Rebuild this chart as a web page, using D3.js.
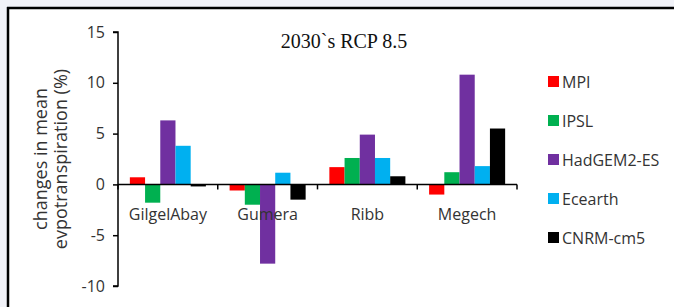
<!DOCTYPE html>
<html><head><meta charset="utf-8">
<script src="https://cdn.jsdelivr.net/npm/d3@7"></script>
<style>
html,body{margin:0;padding:0;background:#f1f2f8;}
svg{display:block;}
</style></head>
<body>
<svg id="c" width="674" height="307"></svg>
<script>
const categories = ["GilgelAbay", "Gumera", "Ribb", "Megech"];
const seriesNames = ["MPI", "IPSL", "HadGEM2-ES", "Ecearth", "CNRM-cm5"];
const seriesColors = ["#ff0000", "#00b050", "#7030a0", "#00b0f0", "#000000"];
const MPI = [0.7, -0.6, 1.7, -1.0];
const IPSL = [-1.8, -2.0, 2.6, 1.2];
const HadGEM2ES = [6.3, -7.8, 4.9, 10.8];
const Ecearth = [3.8, 1.15, 2.6, 1.8];
const CNRMcm5 = [-0.2, -1.5, 0.8, 5.5];
const yTicks = [-10, -5, 0, 5, 10, 15];
const seriesValues = [MPI, IPSL, HadGEM2ES, Ecearth, CNRMcm5];

const svg = d3.select("#c");
svg.append("rect").attr("x", 8).attr("y", 8).attr("width", 680).attr("height", 320).attr("fill", "#fff");
svg.append("line").attr("x1", 7).attr("x2", 674).attr("y1", 8).attr("y2", 8).attr("stroke", "#000").attr("stroke-width", 2.5);
svg.append("line").attr("x1", 8).attr("x2", 8).attr("y1", 7).attr("y2", 307).attr("stroke", "#000").attr("stroke-width", 2.5);

const y = d3.scaleLinear().domain([-10, 15]).range([286, 32]);
const x = d3.scaleBand().domain(categories).range([118, 517]).paddingInner(0).paddingOuter(0);
const xs = d3.scaleBand().domain(seriesNames).range([0, x.bandwidth()]).paddingInner(0).paddingOuter(0.78);

const g = svg.append("g");
categories.forEach((cat, ci) => {
  seriesNames.forEach((s, si) => {
    const v = seriesValues[si][ci];
    g.append("rect")
      .attr("x", x(cat) + xs(s))
      .attr("width", xs.bandwidth())
      .attr("y", y(Math.max(0, v)))
      .attr("height", Math.abs(y(v) - y(0)))
      .attr("fill", seriesColors[si]);
  });
});

const yAxis = d3.axisLeft(y).tickValues(yTicks).tickSize(5).tickPadding(8).tickFormat(d => String(d));
const ya = svg.append("g").attr("transform", "translate(118,0)").call(yAxis);
ya.selectAll("path,line").attr("stroke", "#000").attr("stroke-width", 1.5);
ya.select(".domain").attr("d", `M-5,${y(15)}H0V${y(-10)}H-5`);
ya.selectAll("text").attr("font-family", "'Open Sans', sans-serif").attr("font-size", 16).attr("fill", "#333");

const xa = svg.append("g").attr("transform", `translate(0,${y(0)})`);
xa.append("line").attr("x1", 118).attr("x2", 517).attr("y1", 0).attr("y2", 0).attr("stroke", "#000").attr("stroke-width", 1.5);
const bounds = categories.map(c => x(c)).concat([x.range()[1]]);
bounds.forEach(b => {
  xa.append("line").attr("x1", b).attr("x2", b).attr("y1", 0).attr("y2", 5).attr("stroke", "#000").attr("stroke-width", 1.5);
});
categories.forEach(c => {
  xa.append("text").attr("x", x(c) + x.bandwidth() / 2).attr("y", 36)
    .attr("text-anchor", "middle").attr("font-family", "'Open Sans', sans-serif")
    .attr("font-size", 16).attr("fill", "#333").text(c);
});

const yl = svg.append("text").attr("transform", "translate(50,159) rotate(-90)")
  .attr("text-anchor", "middle").attr("font-family", "'Open Sans', sans-serif")
  .attr("font-size", 18).attr("fill", "#333");
yl.append("tspan").attr("x", 0).attr("y", -3).text("changes in mean");
yl.append("tspan").attr("x", 0).attr("y", 17).text("evpotranspiration (%)");

svg.append("text").attr("x", 344).attr("y", 48).attr("text-anchor", "middle")
  .attr("font-family", "'Liberation Serif', 'Times New Roman', serif").attr("font-size", 20)
  .attr("fill", "#111").text("2030`s RCP 8.5");

const lg = svg.append("g");
seriesNames.forEach((s, i) => {
  const cy = 82 + i * 39;
  lg.append("rect").attr("x", 548).attr("y", cy - 6).attr("width", 11).attr("height", 11).attr("fill", seriesColors[i]);
  lg.append("text").attr("x", 562).attr("y", cy + 6).attr("font-family", "'Open Sans', sans-serif")
    .attr("font-size", 16).attr("fill", "#333").text(s);
});
</script>
</body></html>
